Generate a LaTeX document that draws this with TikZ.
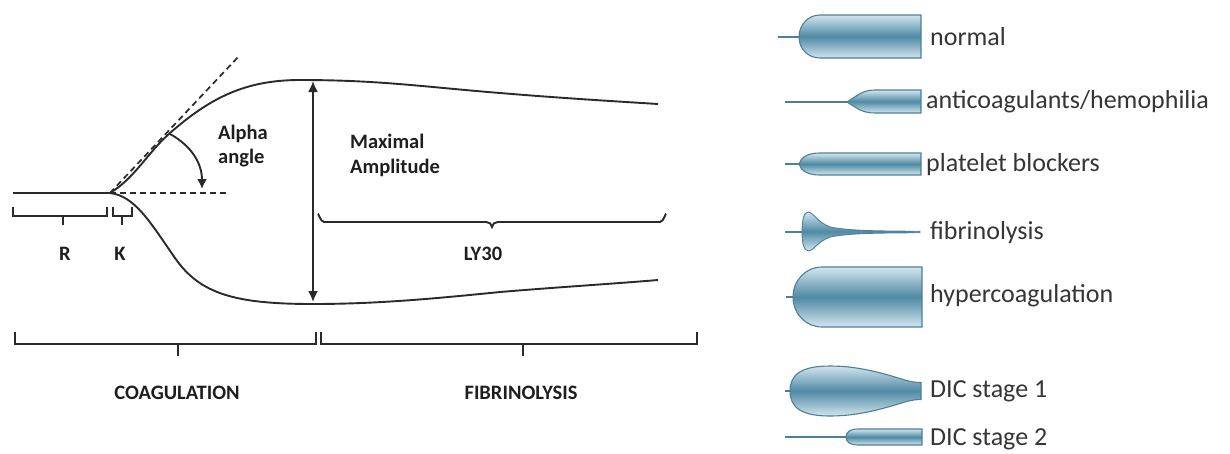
\documentclass[tikz,border=0pt]{standalone}
\usepackage{fontspec}
\setmainfont{Carlito}
\usetikzlibrary{arrows.meta}
\definecolor{ink}{HTML}{2A2A2A}
\definecolor{txt}{HTML}{1E1E1E}
\definecolor{rtxt}{HTML}{353535}
\definecolor{tubelight}{HTML}{D2E5EE}
\definecolor{tubedark}{HTML}{4F8AA4}
\definecolor{tubeedge}{HTML}{4E7F96}
\tikzset{
  curve/.style={draw=ink, line width=1.9pt},
  dline/.style={draw=ink, line width=1.7pt, dash pattern=on 6pt off 4pt},
  brk/.style={draw=ink, line width=1.9pt},
  lbl/.style={text=txt, inner sep=0pt, font=\bfseries\fontsize{20.5}{24}\selectfont},
  rlbl/.style={text=rtxt, inner sep=0pt, anchor=base west, font=\fontsize{26}{30}\selectfont},
  tube/.style={draw=tubeedge, line width=1.1pt, top color=tubelight, bottom color=tubelight, middle color=tubedark},
  stem/.style={draw=tubeedge, line width=1.3pt},
}
\begin{document}
\begin{tikzpicture}[x=1pt,y=-1pt]
\useasboundingbox (0,0) rectangle (1230,453);
% ---------- left diagram ----------
\coordinate (start) at (13,193);
\coordinate (split) at (110,193);
\coordinate (tanend) at (240,55);
\coordinate (hend) at (226,193);
\coordinate (top) at (313,80);
\coordinate (bot) at (313,304);
\draw[curve] (start) -- (split);
\draw[curve] (split) .. controls (135,178) and (148,152) .. (170,133)
  .. controls (210,98) and (245,80) .. (300,80)
  .. controls (380,80) and (425,87) .. (500,93)
  .. controls (560,98) and (610,101) .. (658,104);
\draw[curve] (split) .. controls (135,196) and (150,222) .. (175,258)
  .. controls (200,294) and (235,304) .. (313,304)
  .. controls (380,304) and (440,298) .. (500,292)
  .. controls (560,287) and (610,284) .. (658,280);
\draw[dline] (split) -- (tanend);
\draw[dline] (split) -- (hend);
% alpha arrow
\coordinate (a0) at (170,134);
\coordinate (a1) at (202,189);
\draw[curve, -{Latex[length=10pt,width=10pt]}] (a0) .. controls (190,145) and (202,162) .. (a1);
% maximal amplitude arrow
\coordinate (mtop) at (313,81);
\coordinate (mbot) at (313,302);
\draw[curve, {Latex[length=11pt,width=10pt]}-{Latex[length=11pt,width=10pt]}] (mtop) -- (mbot);
% R and K brackets
\draw[brk] (13,207) -- (13,216) -- (107,216) -- (107,207);
\draw[brk] (63,216) -- (63,225);
\draw[brk] (113,207) -- (113,216) -- (132,216) -- (132,207);
\draw[brk] (122,216) -- (122,225);
% LY30 brace
\draw[brk] (318,215) to[out=90,in=180] (324,222) -- (486,222) to[out=0,in=90] (492,227)
  to[out=90,in=180] (498,222) -- (660,222) to[out=0,in=90] (666,215);
% bottom brackets
\draw[brk] (15,332) -- (15,344) -- (316,344) -- (316,332);
\draw[brk] (178,344) -- (178,356);
\draw[brk] (321,332) -- (321,344) -- (697,344) -- (697,332);
\draw[brk] (523,344) -- (523,356);
% labels
\node[lbl, anchor=base west] (alpha1) at (218,139.5) {Alpha};
\node[lbl, anchor=base west] (alpha2) at (218,163) {angle};
\node[lbl, anchor=base west] (max1) at (350,148.5) {Maximal};
\node[lbl, anchor=base west] (max2) at (350,173) {Amplitude};
\node[lbl, anchor=base] (R) at (65,260) {R};
\node[lbl, anchor=base] (K) at (120,260) {K};
\node[lbl, anchor=base] (LY) at (483,260) {LY30};
\node[lbl, anchor=base] (coag) at (177,399.5) {COAGULATION};
\node[lbl, anchor=base] (fib) at (521,399.5) {FIBRINOLYSIS};
% ---------- right legend ----------
% normal
\draw[stem] (778,37) -- (799,37);
\draw[tube] (799,37) .. controls (799,25) and (808,15) .. (820,15) -- (921,15) -- (921,58) -- (820,58)
  .. controls (808,58) and (799,49) .. (799,37) -- cycle;
\node[rlbl] (n1) at (930,45) {normal};
% anticoagulants
\draw[stem] (785,102) -- (847,102);
\draw[tube] (847,102) .. controls (858,95) and (863,90) .. (875,90) -- (921,90) -- (921,113) -- (875,113)
  .. controls (863,113) and (858,109) .. (847,102) -- cycle;
\node[rlbl] (n2) at (926,108.5) {anticoagulants/hemophilia};
% platelet blockers
\draw[stem] (785,164) -- (799,164);
\draw[tube] (799,164) .. controls (801,157) and (808,153) .. (820,153) -- (921,153) -- (921,175) -- (820,175)
  .. controls (808,175) and (801,171) .. (799,164) -- cycle;
\node[rlbl] (n3) at (926,171.5) {platelet blockers};
% fibrinolysis
\draw[stem] (785,232) -- (802,232);
\draw[tube, line width=0.9pt] (802,232) .. controls (802,220) and (804,212) .. (808,212)
  .. controls (813,212) and (817,222) .. (830,227)
  .. controls (850,231) and (880,231) .. (920,231.3) -- (920,232.7)
  .. controls (880,233) and (850,233) .. (830,237)
  .. controls (817,242) and (813,251) .. (809,251)
  .. controls (804,251) and (802,244) .. (802,232) -- cycle;
\node[rlbl] (n4) at (930,239) {fibrinolysis};
% hypercoagulation
\draw[stem] (786,297) -- (793,297);
\draw[tube] (793,297) .. controls (793,280) and (806,267) .. (822,267) -- (922,267) -- (922,327) -- (822,327)
  .. controls (806,327) and (793,314) .. (793,297) -- cycle;
\node[rlbl] (n5) at (930,302) {hypercoagulation};
% DIC stage 1
\draw[stem] (785,391) -- (790,391);
\draw[tube] (790,391) .. controls (790,374) and (802,366) .. (830,366)
  .. controls (860,366) and (885,374) .. (905,380)
  .. controls (912,382) and (916,382.5) .. (921,382.5) -- (921,399.5)
  .. controls (916,399.5) and (912,400) .. (905,402)
  .. controls (885,408) and (860,416) .. (830,416)
  .. controls (802,416) and (790,408) .. (790,391) -- cycle;
\node[rlbl] (n6) at (930,397) {DIC stage 1};
% DIC stage 2
\draw[stem] (785,437) -- (846,437);
\draw[tube] (846,437) .. controls (846,432) and (850,429) .. (858,429) -- (922,429) -- (922,445) -- (858,445)
  .. controls (850,445) and (846,442) .. (846,437) -- cycle;
\node[rlbl] (n7) at (930,445) {DIC stage 2};
\end{tikzpicture}
\end{document}
